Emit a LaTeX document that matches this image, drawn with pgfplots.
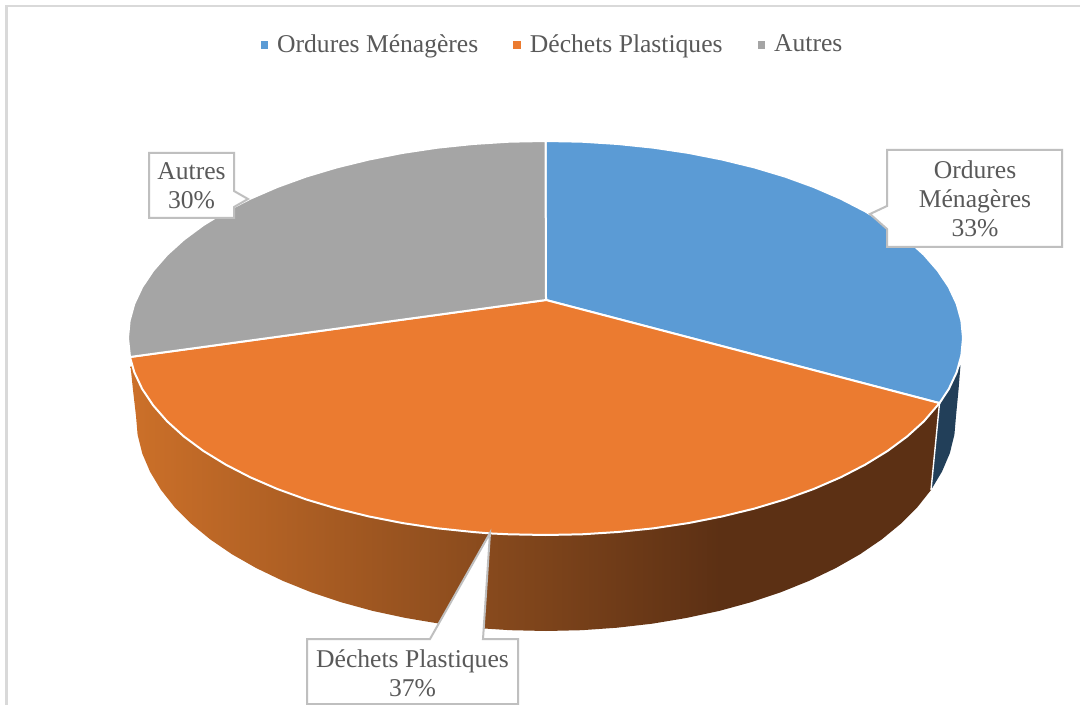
\documentclass[border=0pt]{standalone}
\usepackage{fontspec}
\setmainfont{Liberation Serif}
\usepackage{pgfplots}
\pgfplotsset{compat=1.18}

\definecolor{bleu}{HTML}{5B9BD5}
\definecolor{orange3d}{HTML}{EB7B30}
\definecolor{gris}{HTML}{A5A5A5}
\definecolor{bleufonce}{HTML}{223F59}
\definecolor{murA}{HTML}{CC7029}
\definecolor{murB}{HTML}{884A1D}
\definecolor{murC}{HTML}{5C3014}
\definecolor{cadre}{HTML}{BFBFBF}
\definecolor{texte}{HTML}{595959}

\begin{document}
\begin{tikzpicture}
\begin{axis}[
    scale only axis,
    width=540pt, height=352.5pt,
    xmin=0, xmax=1080, ymin=0, ymax=705,
    y dir=reverse,
    hide axis,
    font=\fontsize{12.8}{14}\selectfont,
    text=texte,
    legend style={at={(axis cs:553.5,45)}, anchor=center, draw=none, fill=none,
      legend columns=-1, text=texte,
      /tikz/every odd column/.append style={column sep=2.5pt},
      /tikz/every even column/.append style={column sep=15.5pt}},
    legend image code/.code={\path[#1,draw=none] (0pt,-1.9pt) rectangle (3.8pt,1.9pt);},
    legend cell align=left,
  ]
% fond et filet
\addplot[forget plot, fill=white, draw=none] coordinates {(0,0) (1080,0) (1080,705) (0,705)} --cycle;
\addplot[forget plot, draw=black!15, line width=1pt] coordinates {(6.5,705) (6.5,6) (1080,6)};

% parois
\addplot[forget plot, draw=none, fill=bleufonce] coordinates {
  (939.5,403.1) (948.8,389) (956.7,372.2) (960.5,365) (958.5,390) (956,416)
  (954.4,434.7) (949.8,453.3) (942,471.6) (931,490)} --cycle;
\addplot[forget plot, draw=none, left color=murA, right color=murB] coordinates {
  (490,533) (484,628.5) (474.8,627.7) (439.9,623.7) (405.8,618) (372.7,610.9)
  (341,602.2) (310.8,592.1) (282.5,580.7) (256.1,568) (231.9,554.2) (210.1,539.3)
  (190.9,523.5) (174.4,506.9) (160.7,489.5) (150,471.6) (142.2,453.3) (137.6,434.7)
  (136,416) (133,390) (130.5,366)} --cycle;
\addplot[forget plot, draw=none, left color=murB, right color=murC] coordinates {
  (490,533) (720,510) (719.3,610.9) (686.2,618) (652.1,623.7) (617.2,627.7)
  (581.7,630.2) (546,631) (510.3,630.2) (484,628.5)} --cycle;
\addplot[forget plot, draw=none, fill=murC] coordinates {
  (719,510) (939.5,403.1) (931,490) (917.6,506.9) (901.1,523.5) (881.9,539.3)
  (860.1,554.2) (835.9,568) (809.5,580.7) (781.2,592.1) (751,602.2) (719,611)} --cycle;
\addplot[forget plot, draw=white, line width=0.7pt] coordinates {(939.5,403.1) (931,490)};

% dessus : 33 %, 37 %, 30 %
\addplot[fill=bleu, draw=white, line width=1pt, line join=round] coordinates {
  (546,300) (545.5,141) (581.9,141.7) (618,144) (653.6,147.7) (688.3,152.9) (721.9,159.5)
  (754.3,167.4) (785,176.6) (813.9,187.1) (840.7,198.7) (865.3,211.4) (887.5,225)
  (907.1,239.5) (923.9,254.7) (937.8,270.6) (948.8,287) (956.7,303.8) (961.4,320.8)
  (963,338) (961.4,355.2) (956.7,372.2) (948.8,389) (939.5,403.1)} --cycle;
\addplot[fill=orange3d, draw=white, line width=1pt, line join=round] coordinates {
  (546,300) (939.5,403.1) (923.9,421.3) (907.1,436.5) (887.5,451) (865.3,464.6)
  (840.7,477.3) (813.9,488.9) (785,499.4) (754.3,508.6) (721.9,516.5) (688.3,523.1)
  (653.6,528.3) (618,532) (581.9,534.3) (545.5,535) (509.1,534.3) (490,533.4) (473,532)
  (437.4,528.3) (402.7,523.1) (369.1,516.5) (336.8,508.6) (306,499.4) (277.1,488.9)
  (250.3,477.3) (225.7,464.6) (203.5,451) (183.9,436.5) (167.1,421.3) (153.2,405.4)
  (142.2,389) (134.3,372.2) (130,357)} --cycle;
\addplot[fill=gris, draw=white, line width=1pt, line join=round] coordinates {
  (546,300) (130,357) (128,338) (129.6,320.8) (134.3,303.8) (142.2,287) (153.2,270.6)
  (167.1,254.7) (183.9,239.5) (203.5,225) (225.7,211.4) (250.3,198.7) (277.1,187.1)
  (306,176.6) (336.8,167.4) (369.1,159.5) (402.7,152.9) (437.4,147.7) (473,144)
  (509.1,141.7) (545.5,141)} --cycle;
\legend{Ordures Ménagères,Déchets Plastiques,Autres}

% bulles
\addplot[forget plot, fill=white, draw=cadre, line width=1pt] coordinates {
  (887,150) (1062,150) (1062,247) (887,247) (887,229) (870,214) (887,206)} --cycle;
\addplot[forget plot, fill=white, draw=cadre, line width=1pt] coordinates {
  (149,153) (234,153) (234,191) (248,199) (234,207) (234,218) (149,218)} --cycle;
\addplot[forget plot, fill=white, draw=cadre, line width=1pt] coordinates {
  (307,639) (430,639) (490,533) (483,639) (518,639) (518,704) (307,704)} --cycle;

\node[align=center, text=texte, inner sep=0pt] at (axis cs:975,199) {Ordures\\[0.4pt]Ménagères\\[0.4pt]33\%};
\node[align=center, text=texte, inner sep=0pt] at (axis cs:191.5,186) {Autres\\[0.4pt]30\%};
\node[align=center, text=texte, inner sep=0pt] at (axis cs:412.5,673) {Déchets Plastiques\\[0.4pt]37\%};
\end{axis}
\end{tikzpicture}
\end{document}
